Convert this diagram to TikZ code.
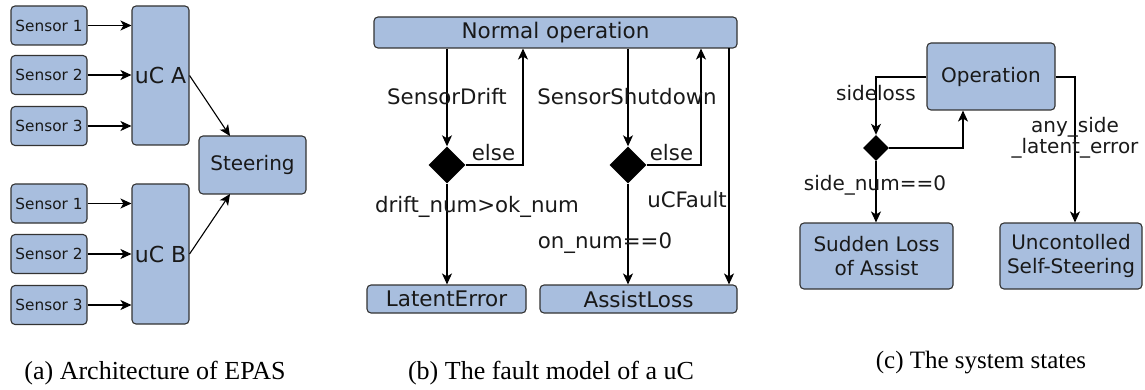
\documentclass[tikz,border=0pt]{standalone}
\usepackage{fontspec}
\setmainfont{Liberation Serif}
\newfontfamily\dejavu{DejaVu Sans}
\usetikzlibrary{arrows.meta,shapes.geometric}
\definecolor{boxblue}{HTML}{A8BEDE}
\definecolor{edgegray}{HTML}{333333}
\tikzset{
  box/.style={draw=edgegray, fill=boxblue, rounded corners=4pt, line width=1.1pt,
    inner sep=0pt, align=center, text=black!90, font=\dejavu\fontsize{20}{24}\selectfont},
  bigbox/.style={box, font=\dejavu\fontsize{21.5}{24}\selectfont},
  sensorbox/.style={box, minimum width=76pt, minimum height=39pt,
    font=\dejavu\fontsize{15.3}{18}\selectfont},
  choice/.style={diamond, fill=black, inner sep=0pt, minimum width=37pt, minimum height=37pt},
  smallchoice/.style={choice, minimum width=26pt, minimum height=26pt},
  arr/.style={line width=1.1pt, -{Stealth[length=11pt,width=10pt,inset=3pt]}},
  lbl/.style={font=\dejavu\fontsize{20}{21}\selectfont, inner sep=0pt, align=center, text=black!90},
  biglbl/.style={lbl, font=\dejavu\fontsize{21.3}{21}\selectfont},
  captext/.style={font=\fontsize{26}{30}\selectfont, inner sep=0pt}
}
\begin{document}
\begin{tikzpicture}[x=1pt, y=-1pt]
\useasboundingbox (0,0) rectangle (1145,390);

% ---- (a) architecture ----
\node[sensorbox] (a1) at (49,25.5) {Sensor 1};
\node[sensorbox] (a2) at (49,75) {Sensor 2};
\node[sensorbox] (a3) at (49,126) {Sensor 3};
\node[sensorbox] (b1) at (49,203.5) {Sensor 1};
\node[sensorbox] (b2) at (49,254) {Sensor 2};
\node[sensorbox] (b3) at (49,305) {Sensor 3};
\node[box, font=\dejavu\fontsize{22}{24}\selectfont, minimum width=57pt, minimum height=139pt] (ucA) at (160.5,75.5) {uC A};
\node[box, font=\dejavu\fontsize{22}{24}\selectfont, minimum width=57pt, minimum height=140pt] (ucB) at (160.5,254) {uC B};
\node[box, minimum width=107pt, minimum height=58pt] (steer) at (252.5,165) {Steering};
\foreach \s in {a1,a2,a3}{\draw[arr] (\s.east) -- (\s.east -| ucA.west);}
\foreach \s in {b1,b2,b3}{\draw[arr] (\s.east) -- (\s.east -| ucB.west);}
\coordinate (stTop) at (230,136);
\coordinate (stBot) at (230,194);
\draw[arr] (ucA.east) -- (stTop);
\draw[arr] (ucB.east) -- (stBot);
\node[captext] (capA) at (155,373) {(a) Architecture of EPAS};

% ---- (b) fault model ----
\node[bigbox, minimum width=363pt, minimum height=31pt] (normal) at (555.5,32.5) {Normal operation};
\node[bigbox, minimum width=159pt, minimum height=28pt] (latent) at (446.5,299) {LatentError};
\node[bigbox, minimum width=197pt, minimum height=28pt] (assist) at (638.5,299) {AssistLoss};
\node[choice] (d1) at (447,165) {};
\node[choice] (d2) at (628,165) {};
\coordinate (e1) at (523,165);
\coordinate (e2) at (701,165);
\draw[arr] (normal.south -| d1) -- (d1.north);
\draw[arr] (d1.east) -- (e1) -- (e1 |- normal.south);
\draw[arr] (d1.south) -- (d1 |- latent.north);
\draw[arr] (normal.south -| d2) -- (d2.north);
\draw[arr] (d2.east) -- (e2) -- (e2 |- normal.south);
\draw[arr] (d2.south) -- (d2 |- assist.north);
\coordinate (fault) at (729,48);
\draw[arr] (fault) -- (fault |- assist.north);
\node[biglbl] (ldrift) at (447,97) {SensorDrift};
\node[biglbl] (lshut) at (627,97) {SensorShutdown};
\node[biglbl] (lelse1) at (493.5,153) {else};
\node[biglbl] (lelse2) at (671.5,153) {else};
\node[biglbl] (lnum) at (477,207) {drift\_num>ok\_num};
\node[biglbl] (lfault) at (687,200) {uCFault};
\node[biglbl] (lon) at (605,243) {on\_num==0};
\node[captext] (capB) at (551,373) {(b) The fault model of a uC};

% ---- (c) system states ----
\node[box, minimum width=128pt, minimum height=67pt] (oper) at (991,76.5) {Operation};
\node[smallchoice] (dc) at (876,148) {};
\node[box, minimum width=153pt, minimum height=66pt] (sudden) at (876.5,256) {Sudden Loss\\of Assist};
\node[box, minimum width=142pt, minimum height=66pt] (unctl) at (1071,256) {Uncontolled\\Self-Steering};
\coordinate (cl) at (876,77);
\coordinate (cb) at (963,148);
\coordinate (cr) at (1075,77);
\draw[arr] (oper.west |- cl) -- (cl) -- (dc.north);
\draw[arr] (dc.east) -- (cb) -- (cb |- oper.south);
\draw[arr] (dc.south) -- (dc |- sudden.north);
\draw[arr] (oper.east |- cr) -- (cr) -- (cr |- unctl.north);
\node[lbl] (lside) at (876,93) {sideloss};
\node[lbl] (lsnum) at (875,185) {side\_num==0};
\node[lbl] (lany) at (1075,137.5) {any\_side\\\_latent\_error};
\node[captext, font=\fontsize{25}{30}\selectfont] (capC) at (981,363) {(c) The system states};
\end{tikzpicture}
\end{document}
